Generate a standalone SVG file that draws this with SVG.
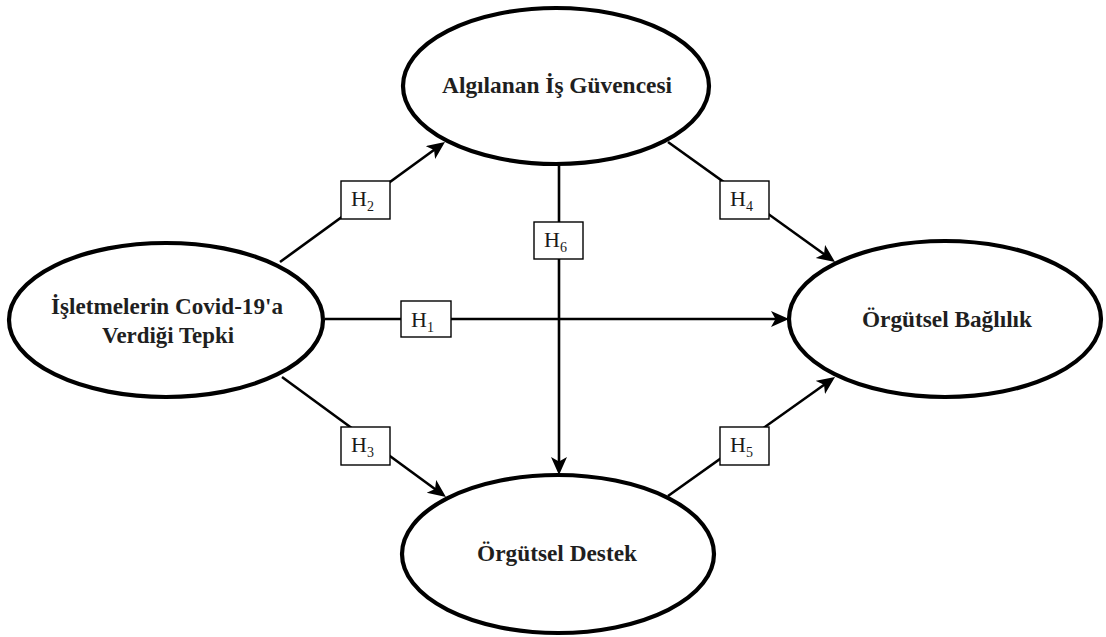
<svg xmlns="http://www.w3.org/2000/svg" width="1106" height="637" viewBox="0 0 1106 637">
<style>
  .node ellipse { fill: #ffffff; stroke: #000000; stroke-width: 4.2; }
  .node text { font-family: "Liberation Serif", "Times New Roman", serif; font-size: 23px; font-weight: bold; fill: #1f1f1f; text-anchor: middle; }
  .edge { stroke: #000000; stroke-width: 2.6; fill: none; marker-end: url(#arrow); }
  .lbl rect { fill: #ffffff; stroke: #000000; stroke-width: 1.4; }
  .lbl text { font-family: "Liberation Serif", "Times New Roman", serif; font-size: 22px; fill: #1a1a1a; }
  .sub { font-size: 14px; }
</style>
<defs>
  <marker id="arrow" markerUnits="userSpaceOnUse" markerWidth="20" markerHeight="18" refX="9" refY="8" orient="auto">
    <path d="M0,0 L18,8 L0,16 L4.5,8 Z" fill="#000000"/>
  </marker>
</defs>
<rect width="1106" height="637" fill="#ffffff"/>

<g id="connectors">
  <line class="edge" x1="325" y1="319" x2="780" y2="319"/>
  <line class="edge" x1="280" y1="262" x2="437.7" y2="147.3"/>
  <line class="edge" x1="282" y1="377" x2="438.7" y2="491.7"/>
  <line class="edge" x1="668" y1="142" x2="827.7" y2="256.7"/>
  <line class="edge" x1="668" y1="496" x2="827.7" y2="382.2"/>
  <line class="edge" x1="559" y1="164" x2="559" y2="466"/>

  <g class="lbl" id="label-h1">
    <rect x="401" y="301" width="50" height="36"/>
    <text x="411" y="327">H<tspan class="sub" dy="5">1</tspan></text>
  </g>
  <g class="lbl" id="label-h2">
    <rect x="341" y="181" width="49" height="38"/>
    <text x="351" y="206">H<tspan class="sub" dy="5">2</tspan></text>
  </g>
  <g class="lbl" id="label-h3">
    <rect x="341" y="427" width="49" height="38"/>
    <text x="351" y="452">H<tspan class="sub" dy="5">3</tspan></text>
  </g>
  <g class="lbl" id="label-h4">
    <rect x="720" y="181" width="49" height="38"/>
    <text x="730" y="206">H<tspan class="sub" dy="5">4</tspan></text>
  </g>
  <g class="lbl" id="label-h5">
    <rect x="720" y="427" width="49" height="38"/>
    <text x="730" y="452">H<tspan class="sub" dy="5">5</tspan></text>
  </g>
  <g class="lbl" id="label-h6">
    <rect x="534" y="222" width="49" height="37"/>
    <text x="544" y="247">H<tspan class="sub" dy="5">6</tspan></text>
  </g>
</g>

<g id="node-is-guvencesi" class="node">
  <ellipse cx="556" cy="86" rx="153" ry="78"/>
  <text x="557" y="93" textLength="230" lengthAdjust="spacingAndGlyphs">Algılanan İş Güvencesi</text>
</g>
<g id="node-covid-tepki" class="node">
  <ellipse cx="166" cy="320" rx="157" ry="77"/>
  <text x="167" y="314" textLength="232" lengthAdjust="spacingAndGlyphs">İşletmelerin Covid-19'a</text>
  <text x="168" y="343" textLength="132" lengthAdjust="spacingAndGlyphs">Verdiği Tepki</text>
</g>
<g id="node-orgutsel-baglilik" class="node">
  <ellipse cx="945" cy="319" rx="156" ry="78"/>
  <text x="947" y="327" textLength="170" lengthAdjust="spacingAndGlyphs">Örgütsel Bağlılık</text>
</g>
<g id="node-orgutsel-destek" class="node">
  <ellipse cx="558" cy="554" rx="156" ry="79"/>
  <text x="557" y="561" textLength="160" lengthAdjust="spacingAndGlyphs">Örgütsel Destek</text>
</g>
</svg>
